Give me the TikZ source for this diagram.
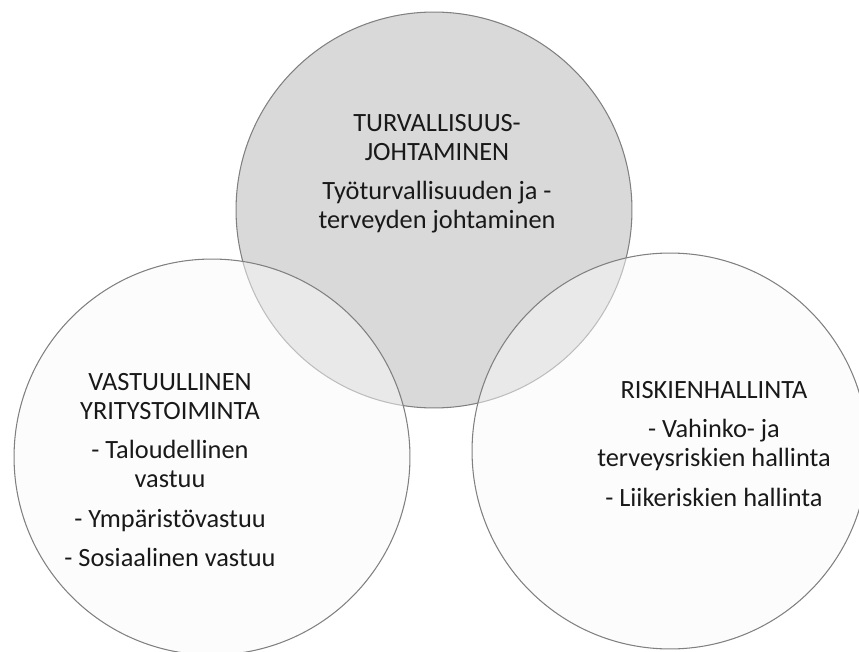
\documentclass[tikz,border=0pt]{standalone}
\usepackage{fontspec}
\setmainfont{Carlito}
\usetikzlibrary{positioning}

\begin{document}
\begin{tikzpicture}[
        x=0.02cm, y=-0.02cm,
        font=\fontsize{15}{16.5}\selectfont,
        ring/.style={
            circle,
            draw=black!50,
            line width=0.6pt,
            minimum size=7.92cm,
            inner sep=0pt
        },
        topring/.style={ring, fill=black!15},
        sidering/.style={ring, fill=black!2, fill opacity=0.5},
        txt/.style={align=center, inner sep=0pt, text=black!90},
    ]

        \useasboundingbox (0,0) rectangle (859,652);

        % the three areas
        \node[topring] (turva) at (434,210) {};
        \node[sidering] (vastuu) at (212,457) {};
        \node[sidering] (riski) at (670,451) {};

        \node[txt] (turvatxt) at (437,173.5)
            {TURVALLISUUS-\\JOHTAMINEN\\[6pt]Työturvallisuuden ja -\\terveyden johtaminen};

        \node[txt] (vastuutxt) at (170,470)
            {VASTUULLINEN\\YRITYSTOIMINTA\\[6pt]- Taloudellinen\\vastuu\\[6pt]- Ympäristövastuu\\[6pt]- Sosiaalinen vastuu};

        \node[txt] (riskitxt) at (714,444)
            {RISKIENHALLINTA\\[6pt]- Vahinko- ja\\terveysriskien hallinta\\[6pt]- Liikeriskien hallinta};

    \end{tikzpicture}
\end{document}
